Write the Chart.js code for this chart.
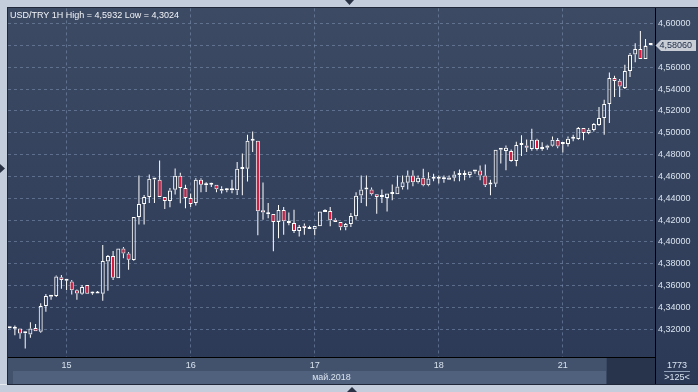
<!DOCTYPE html>
<html><head><meta charset="utf-8">
<script src="https://cdn.jsdelivr.net/npm/chart.js@4.4.1/dist/chart.umd.min.js"></script>
<style>html,body{margin:0;padding:0;background:#c3cddb;overflow:hidden}canvas{display:block}</style>
</head><body>
<canvas id="c" width="698" height="392"></canvas>
<script>
const days = ['14','15','16','17','18','21'];
const firstHour = 13, lastHour = 17;
const titleText = 'USD/TRY 1H High = 4,5932 Low = 4,3024';
const monthLabel = 'май.2018';
const barCountText = '1773';
const visibleText = '>125<';
const lastPriceText = '4,58060';
const yTicks = [4.32,4.34,4.36,4.38,4.40,4.42,4.44,4.46,4.48,4.50,4.52,4.54,4.56,4.58,4.60];

const open = [4.3210,4.3205,4.3209,4.3167,4.3154,4.3212,4.3179,4.3413,4.3499,4.3505,
4.3676,4.3648,4.3639,4.3557,4.3526,4.3606,4.3529,4.3529,4.3526,4.3822,
4.3871,4.3667,4.3941,4.3895,4.3834,4.4229,4.4348,4.4412,4.4578,4.4569,
4.4412,4.4376,4.4477,4.4605,4.4495,4.4403,4.4357,4.4569,4.4520,4.4523,
4.4523,4.4486,4.4474,4.4474,4.4474,4.4667,4.4670,4.4927,4.4927,4.4290,
4.4262,4.4256,4.4183,4.4293,4.4192,4.4174,4.4100,4.4149,4.4119,4.4116,
4.4143,4.4275,4.4284,4.4204,4.4183,4.4134,4.4165,4.4235,4.4425,4.4480,
4.4480,4.4437,4.4412,4.4403,4.4440,4.4437,4.4501,4.4541,4.4608,4.4547,
4.4587,4.4520,4.4578,4.4578,4.4578,4.4569,4.4587,4.4614,4.4614,4.4614,
4.4645,4.4654,4.4608,4.4526,4.4532,4.4844,4.4832,4.4832,4.4740,4.4887,
4.4884,4.4851,4.4936,4.4851,4.4863,4.4881,4.4933,4.4896,4.4896,4.4945,
4.4942,4.5043,4.4997,4.5024,4.5070,4.5134,4.5262,4.5500,4.5476,4.5409,
4.5564,4.5717,4.5766,4.5674,4.5802];
const high = [4.3222,4.3235,4.3209,4.3179,4.3264,4.3249,4.3438,4.3523,4.3511,4.3694,
4.3697,4.3661,4.3651,4.3566,4.3606,4.3606,4.3545,4.3551,4.3972,4.3880,
4.3917,4.3941,4.3953,4.3908,4.4229,4.4608,4.4431,4.4617,4.4578,4.4746,
4.4412,4.4495,4.4673,4.4633,4.4523,4.4443,4.4584,4.4584,4.4547,4.4541,
4.4523,4.4510,4.4492,4.4569,4.4731,4.4810,4.4982,4.5012,4.4927,4.4544,
4.4357,4.4256,4.4339,4.4321,4.4269,4.4296,4.4155,4.4168,4.4149,4.4146,
4.4278,4.4299,4.4321,4.4217,4.4183,4.4174,4.4265,4.4455,4.4608,4.4608,
4.4498,4.4437,4.4480,4.4443,4.4526,4.4608,4.4608,4.4654,4.4657,4.4608,
4.4670,4.4639,4.4624,4.4608,4.4608,4.4608,4.4648,4.4663,4.4654,4.4645,
4.4657,4.4700,4.4709,4.4569,4.4844,4.4862,4.4884,4.4847,4.4917,4.4976,
4.4939,4.5037,4.4945,4.4912,4.4890,4.4966,4.4951,4.4905,4.4966,4.4982,
4.5052,4.5043,4.5043,4.5088,4.5235,4.5302,4.5552,4.5522,4.5491,4.5622,
4.5729,4.5820,4.5932,4.5857,4.5814];
const low = [4.3208,4.3145,4.3115,4.3024,4.3124,4.3182,4.3170,4.3362,4.3471,4.3496,
4.3572,4.3560,4.3520,4.3471,4.3517,4.3526,4.3517,4.3529,4.3462,4.3554,
4.3651,4.3667,4.3850,4.3746,4.3828,4.4159,4.4159,4.4357,4.4357,4.4412,
4.4302,4.4318,4.4434,4.4354,4.4308,4.4320,4.4333,4.4455,4.4458,4.4504,
4.4455,4.4443,4.4455,4.4446,4.4431,4.4428,4.4553,4.4823,4.4061,4.4204,
4.4217,4.3914,4.4033,4.4067,4.4152,4.4082,4.4051,4.4067,4.4119,4.4061,
4.4143,4.4275,4.4143,4.4183,4.4107,4.4107,4.4137,4.4204,4.4357,4.4327,
4.4425,4.4259,4.4357,4.4278,4.4382,4.4437,4.4480,4.4480,4.4510,4.4535,
4.4510,4.4510,4.4556,4.4535,4.4541,4.4569,4.4556,4.4556,4.4565,4.4587,
4.4624,4.4565,4.4504,4.4428,4.4504,4.4718,4.4657,4.4734,4.4694,4.4786,
4.4823,4.4835,4.4838,4.4835,4.4844,4.4875,4.4857,4.4820,4.4875,4.4921,
4.4936,4.4930,4.4985,4.5012,4.5064,4.4982,4.5088,4.5326,4.5326,4.5400,
4.5509,4.5644,4.5674,4.5674,4.5802];
const close = [4.3218,4.3208,4.3163,4.3164,4.3209,4.3182,4.3413,4.3505,4.3511,4.3685,
4.3651,4.3645,4.3557,4.3529,4.3587,4.3526,4.3529,4.3532,4.3825,4.3871,
4.3673,4.3941,4.3895,4.3837,4.4229,4.4348,4.4412,4.4578,4.4572,4.4412,
4.4376,4.4471,4.4605,4.4495,4.4403,4.4348,4.4569,4.4523,4.4523,4.4523,
4.4483,4.4468,4.4474,4.4477,4.4670,4.4667,4.4927,4.4927,4.4281,4.4269,
4.4253,4.4183,4.4293,4.4189,4.4174,4.4100,4.4137,4.4128,4.4131,4.4146,
4.4278,4.4287,4.4198,4.4183,4.4134,4.4165,4.4238,4.4422,4.4480,4.4483,
4.4437,4.4412,4.4412,4.4443,4.4440,4.4507,4.4547,4.4608,4.4547,4.4587,
4.4520,4.4581,4.4578,4.4578,4.4575,4.4590,4.4617,4.4614,4.4614,4.4645,
4.4648,4.4608,4.4520,4.4526,4.4844,4.4862,4.4862,4.4740,4.4887,4.4887,
4.4862,4.4936,4.4851,4.4869,4.4884,4.4936,4.4875,4.4896,4.4945,4.4945,
4.5043,4.4997,4.5027,4.5079,4.5134,4.5262,4.5500,4.5473,4.5424,4.5564,
4.5714,4.5766,4.5674,4.5793,4.5806];

// hourly category labels
const labels = [];
days.forEach((d, i) => {
  const h0 = i === 0 ? firstHour : 0;
  const h1 = i === days.length - 1 ? lastHour : 23;
  for (let h = h0; h <= h1; h++) labels.push(d + ' ' + String(h).padStart(2, '0') + ':00');
});
const dayStarts = labels.map((l, i) => l.endsWith(' 00:00') ? i : -1).filter(i => i >= 0);

const RED = '#e2173c';
const WHITE = '#ffffff';
const GRID = 'rgba(128,148,180,0.55)';
const TXT = '#d9e3ef';
const FONT = '"Liberation Sans", Arial, sans-serif';
Chart.defaults.font.family = FONT;
Chart.defaults.font.size = 9;

const idx = labels.map((_, i) => i);
const lowerWick = idx.map(i => ({x: i, y: [low[i], Math.min(open[i], close[i])]}));
const upperWick = idx.map(i => ({x: i, y: [Math.max(open[i], close[i]), high[i]]}));
const bodies = idx.map(i => ({x: i, y: [Math.min(open[i], close[i]), Math.max(open[i], close[i])]}));
const bodyFill = idx.map(i => close[i] < open[i] ? RED : 'rgba(0,0,0,0)');

const bgPlugin = {
  id: 'bg',
  beforeDraw(chart) {
    const c = chart.ctx;
    c.save();
    c.fillStyle = '#c3cddb';
    c.fillRect(0, 0, 698, 392);
    c.fillStyle = '#e6ebf1';
    c.fillRect(0, 384, 698, 1);
    c.fillStyle = '#1f2738';
    c.fillRect(7, 7, 691, 378);
    const g = c.createLinearGradient(0, 8, 0, 384);
    g.addColorStop(0, '#3d4a63');
    g.addColorStop(1, '#2b3957');
    c.fillStyle = g;
    c.fillRect(8, 8, 690, 376);
    // bottom axis strips
    c.fillStyle = '#42526c';
    c.fillRect(8, 358, 647, 26);
    c.fillStyle = '#50617d';
    c.fillRect(13, 371, 594, 13);
    c.fillStyle = '#28344c';
    c.fillRect(607, 358, 48, 26);
    c.fillStyle = '#3a4862';
    c.fillRect(606, 358, 1, 26);
    // little triangles on frame
    c.fillStyle = '#2a3346';
    c.beginPath(); c.moveTo(345, 0); c.lineTo(354, 0); c.lineTo(349.5, 5); c.closePath(); c.fill();
    c.beginPath(); c.moveTo(0, 164); c.lineTo(5, 168.5); c.lineTo(0, 173); c.closePath(); c.fill();
    c.beginPath(); c.moveTo(347, 392); c.lineTo(357, 392); c.lineTo(352, 387); c.closePath(); c.fill();
    c.restore();
  },
  afterDraw(chart) {
    const c = chart.ctx;
    const ys = chart.scales.y;
    c.save();
    // frame lines
    c.fillStyle = '#000000';
    c.fillRect(655, 8, 1, 376);
    c.fillRect(8, 357, 647, 1);
    // title
    c.font = '9px ' + FONT;
    c.fillStyle = '#f2f5f9';
    c.textBaseline = 'alphabetic';
    c.textAlign = 'left';
    c.fillText(titleText, 10, 17.5);
    // last price tag
    const py = Math.round(ys.getPixelForValue(close[close.length - 1])) + 0.5;
    c.fillStyle = '#c8cdd6';
    c.beginPath();
    c.moveTo(655.5, py);
    c.lineTo(661, py - 5.5);
    c.lineTo(696, py - 5.5);
    c.lineTo(696, py + 5.5);
    c.lineTo(661, py + 5.5);
    c.closePath();
    c.fill();
    c.fillStyle = '#1d2b45';
    c.textBaseline = 'middle';
    c.fillText(lastPriceText, 659.5, py + 0.5);
    // bottom-right counters
    c.fillStyle = TXT;
    c.textAlign = 'center';
    c.fillText(barCountText, 677, 365.5);
    c.fillText(visibleText, 677, 378);
    c.fillStyle = '#8fa0b8';
    c.fillRect(664, 371, 26, 1);
    c.restore();
  }
};

new Chart(document.getElementById('c'), {
  type: 'bar',
  data: {
    datasets: [
      {data: lowerWick, backgroundColor: WHITE, borderWidth: 0, barThickness: 1, grouped: false, inflateAmount: 0},
      {data: upperWick, backgroundColor: WHITE, borderWidth: 0, barThickness: 1, grouped: false, inflateAmount: 0},
      {data: bodies, backgroundColor: bodyFill, borderColor: WHITE, borderWidth: 1, borderSkipped: false,
       barThickness: 4, minBarLength: 2, grouped: false, inflateAmount: 0}
    ]
  },
  options: {
    responsive: false,
    animation: false,
    layout: {padding: {left: 8, top: 8, right: 0, bottom: 0}},
    plugins: {legend: {display: false}, tooltip: {enabled: false}},
    scales: {
      x: {
        type: 'linear',
        offset: false,
        min: -0.33,
        max: 124.83,
        afterBuildTicks: s => { s.ticks = dayStarts.map(v => ({value: v})); },
        afterFit: s => { s.height = 35; },
        ticks: {
          callback: v => labels[v] ? labels[v].split(' ')[0] : '',
          color: TXT, font: {size: 9}, padding: 3, maxRotation: 0, autoSkip: false
        },
        grid: {color: GRID, drawTicks: false, lineWidth: 1, offset: false},
        border: {display: false, dash: [3, 3]},
        title: {display: true, text: monthLabel, color: TXT, font: {size: 9}, padding: {top: 0, bottom: 9}}
      },
      y: {
        type: 'linear',
        position: 'right',
        min: 4.2947,
        max: 4.6138,
        afterBuildTicks: s => { s.ticks = yTicks.map(v => ({value: v})); },
        afterFit: s => { s.width = 43; },
        ticks: {
          callback: v => v.toFixed(5).replace('.', ','),
          color: TXT, font: {size: 9}, padding: 3
        },
        grid: {color: GRID, drawTicks: false, lineWidth: 1},
        border: {display: false, dash: [3, 3]}
      }
    }
  },
  plugins: [bgPlugin]
});
</script>
</body></html>
